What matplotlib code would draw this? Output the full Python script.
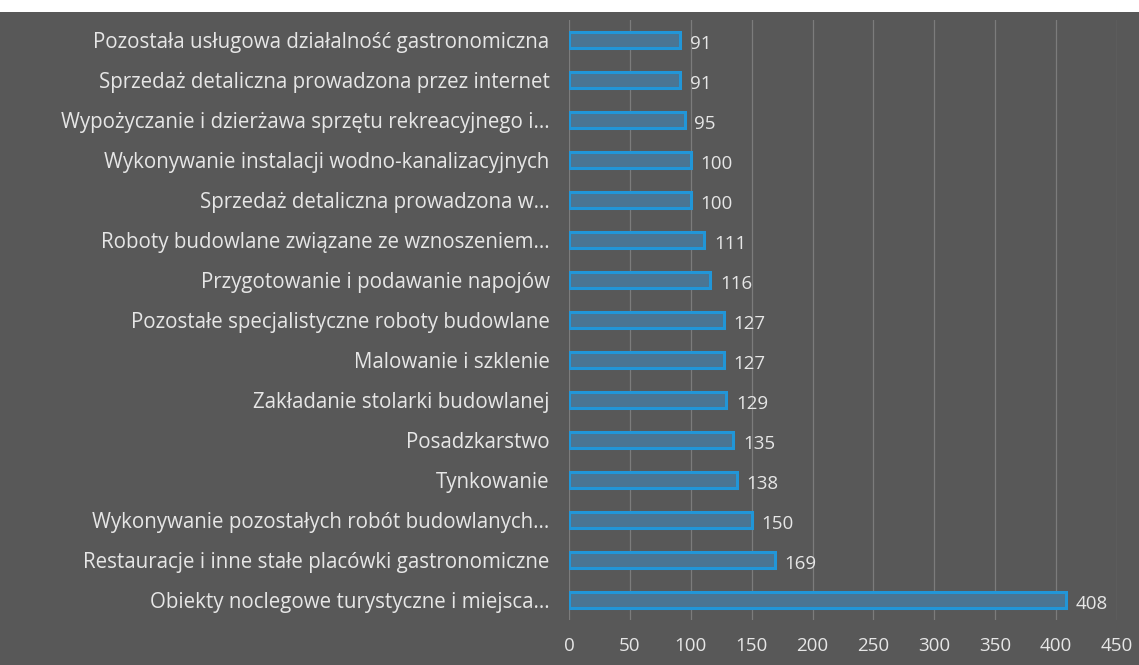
import matplotlib.pyplot as plt
from matplotlib.patches import Rectangle

# categories listed top to bottom as in the chart
categories = [
    "Pozostała usługowa działalność gastronomiczna",
    "Sprzedaż detaliczna prowadzona przez internet",
    "Wypożyczanie i dzierżawa sprzętu rekreacyjnego i...",
    "Wykonywanie instalacji wodno-kanalizacyjnych",
    "Sprzedaż detaliczna prowadzona w...",
    "Roboty budowlane związane ze wznoszeniem...",
    "Przygotowanie i podawanie napojów",
    "Pozostałe specjalistyczne roboty budowlane",
    "Malowanie i szklenie",
    "Zakładanie stolarki budowlanej",
    "Posadzkarstwo",
    "Tynkowanie",
    "Wykonywanie pozostałych robót budowlanych...",
    "Restauracje i inne stałe placówki gastronomiczne",
    "Obiekty noclegowe turystyczne i miejsca...",
]
values = [91, 91, 95, 100, 100, 111, 116, 127, 127, 129, 135, 138, 150, 169, 408]
xticks = [0, 50, 100, 150, 200, 250, 300, 350, 400, 450]

BG = "#585858"
TEXT = "#e6e6e6"

plt.rcParams["font.family"] = ["Open Sans", "DejaVu Sans"]

fig = plt.figure(figsize=(11.39, 6.65), dpi=100, facecolor="white")
# dark scanned background, thin white strip on top
fig.patches.append(Rectangle((0, 0), 1, 1 - 12 / 665, transform=fig.transFigure,
                             facecolor=BG, edgecolor="none", zorder=-10))

ax = fig.add_axes([569 / 1139, 1 - 620 / 665, (1117 - 569) / 1139, 600 / 665])
ax.set_facecolor(BG)
ax.patch.set_alpha(0)

ypos = list(range(len(categories)))[::-1]
ax.barh(ypos, values, height=0.38, color="#4a7593", edgecolor="#2196d8",
        linewidth=2.2, zorder=3)

for y, v in zip(ypos, values):
    ax.text(v + 8, y - 0.1, str(v), color=TEXT, fontsize=13.5,
            va="center", ha="left", zorder=4)

ax.set_xlim(0, 450)
ax.set_ylim(-0.5, len(categories) - 0.5)
ax.set_xticks(xticks)
ax.set_xticklabels([str(t) for t in xticks], color=TEXT, fontsize=13.5)
ax.set_yticks(ypos)
ax.set_yticklabels(categories, color=TEXT, fontsize=14.8)
ax.tick_params(axis="both", length=0)
ax.tick_params(axis="y", pad=14)
ax.tick_params(axis="x", pad=12)

ax.grid(axis="x", color="#7c7c7c", linewidth=0.9, zorder=0)
for s in ax.spines.values():
    s.set_visible(False)

fig.savefig("out.png", dpi=100, facecolor=fig.get_facecolor())
